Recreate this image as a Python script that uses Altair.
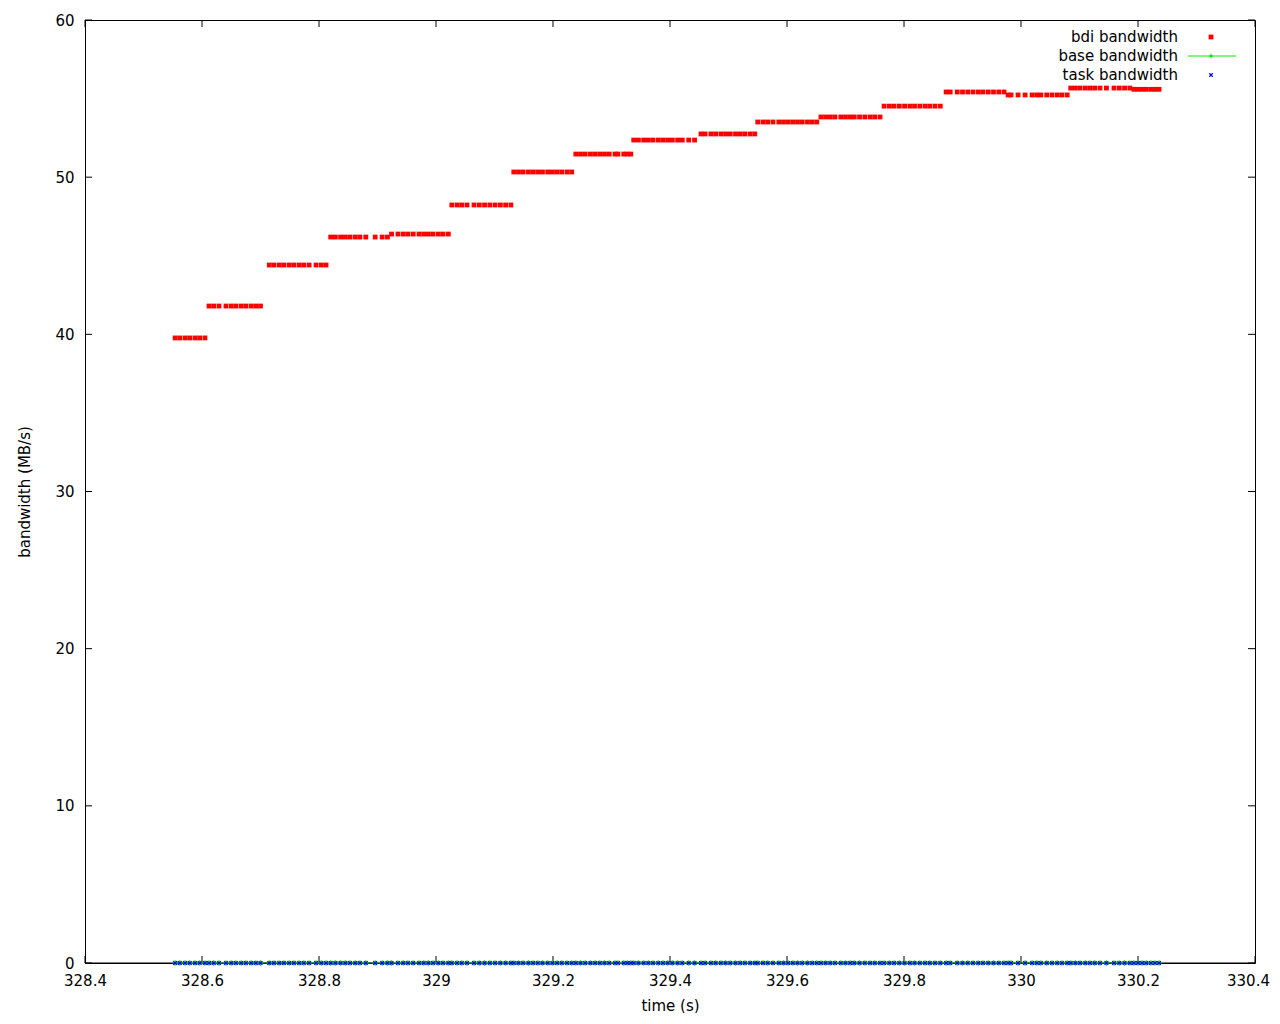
import altair as alt
import pandas as pd

# ---------------- data ----------------
bdi_levels = [39.77, 41.80, 44.41, 46.19, 46.38, 48.23, 50.33, 51.47, 52.36,
              52.75, 53.51, 53.83, 54.52, 55.42, 55.23, 55.67, 55.59]

bdi_times = [
    [328.554, 328.562, 328.571, 328.579, 328.588, 328.596, 328.605],
    [328.612, 328.620, 328.629, 328.641, 328.650, 328.658, 328.667, 328.675, 328.684, 328.692, 328.700],
    [328.715, 328.723, 328.732, 328.740, 328.749, 328.757, 328.766, 328.774, 328.783, 328.795, 328.804, 328.812],
    [328.820, 328.828, 328.837, 328.845, 328.853, 328.862, 328.870, 328.880, 328.896, 328.908, 328.917],
    [328.924, 328.935, 328.944, 328.952, 328.961, 328.971, 328.979, 328.987, 328.995, 329.004, 329.012, 329.021],
    [329.027, 329.036, 329.044, 329.053, 329.065, 329.074, 329.083, 329.092, 329.101, 329.110, 329.119, 329.128],
    [329.133, 329.141, 329.149, 329.158, 329.166, 329.174, 329.182, 329.191, 329.199, 329.207, 329.215, 329.224, 329.232],
    [329.239, 329.247, 329.255, 329.264, 329.272, 329.280, 329.288, 329.296, 329.306, 329.311, 329.321, 329.327, 329.333],
    [329.338, 329.346, 329.355, 329.363, 329.371, 329.380, 329.388, 329.396, 329.404, 329.413, 329.421, 329.432, 329.442],
    [329.453, 329.460, 329.470, 329.478, 329.487, 329.495, 329.503, 329.512, 329.520, 329.528, 329.537, 329.545],
    [329.550, 329.559, 329.567, 329.576, 329.586, 329.594, 329.602, 329.610, 329.618, 329.626, 329.635, 329.643, 329.651],
    [329.658, 329.666, 329.674, 329.682, 329.692, 329.700, 329.708, 329.715, 329.724, 329.733, 329.742, 329.750, 329.759],
    [329.766, 329.775, 329.783, 329.792, 329.801, 329.810, 329.818, 329.827, 329.836, 329.844, 329.853, 329.862],
    [329.872, 329.879, 329.891, 329.900, 329.909, 329.918, 329.927, 329.935, 329.944, 329.953, 329.962, 329.971],
    [329.978, 329.983, 329.995, 330.007, 330.019, 330.027, 330.034, 330.044, 330.053, 330.062, 330.070, 330.079],
    [330.085, 330.093, 330.101, 330.110, 330.118, 330.126, 330.135, 330.146, 330.159, 330.168, 330.177, 330.186],
    [330.193, 330.200, 330.207, 330.214, 330.222, 330.229, 330.236],
]

base_bandwidth_value = 0.0   # base bandwidth reads 0 at every sample
task_bandwidth_value = 0.0   # task bandwidth reads 0 at every sample

x_ticks = [328.4, 328.6, 328.8, 329.0, 329.2, 329.4, 329.6, 329.8, 330.0, 330.2, 330.4]
y_ticks = [0, 10, 20, 30, 40, 50, 60]

# ---------------- tables ----------------
rows = []
for lvl, ts in zip(bdi_levels, bdi_times):
    for t in ts:
        rows.append({"t": t, "bdi": lvl, "base": base_bandwidth_value, "task": task_bandwidth_value})
df = pd.DataFrame(rows)
xt = pd.DataFrame({"v": x_ticks})
yt = pd.DataFrame({"v": y_ticks})
one = pd.DataFrame({"a": [0]})

W, H = 1170, 943
FONT = "DejaVu Sans"
FS = 15

x_scale = alt.Scale(domain=[328.4, 330.4], nice=False, zero=False)
y_scale = alt.Scale(domain=[0, 60], nice=False, zero=True)

x_axis = alt.Axis(values=x_ticks, format="~f", ticks=False, tickSize=0, domain=False,
                  grid=False, labelPadding=10, labelFlush=False, labelOverlap=False,
                  labelOffset={"condition": {"test": "datum.value > 330.3", "value": -7}, "value": 0},
                  title="time (s)", titlePadding=10)
y_axis = alt.Axis(values=y_ticks, ticks=False, tickSize=0, domain=False, grid=False,
                  labelPadding=11, labelFlush=False, labelOverlap=False,
                  title="bandwidth (MB/s)", titlePadding=22)

X = alt.X("t:Q", scale=x_scale, axis=x_axis)

# inward ticks on all four sides
tick_bottom = alt.Chart(xt).mark_rule(color="black", strokeWidth=1).encode(
    x=alt.X("v:Q", scale=x_scale, axis=x_axis), y=alt.value(H), y2=alt.value(H - 7))
tick_top = alt.Chart(xt).mark_rule(color="black", strokeWidth=1).encode(
    x=alt.X("v:Q", scale=x_scale, axis=x_axis), y=alt.value(0), y2=alt.value(7))
tick_left = alt.Chart(yt).mark_rule(color="black", strokeWidth=1).encode(
    y=alt.Y("v:Q", scale=y_scale, axis=y_axis), x=alt.value(0), x2=alt.value(7))
tick_right = alt.Chart(yt).mark_rule(color="black", strokeWidth=1).encode(
    y=alt.Y("v:Q", scale=y_scale, axis=y_axis), x=alt.value(W), x2=alt.value(W - 7))

bdi = alt.Chart(df).mark_square(size=23, color="#ff0000", opacity=1, filled=True).encode(
    x=X, y=alt.Y("bdi:Q", scale=y_scale, axis=y_axis))

base_line = alt.Chart(df).mark_line(color="#00ee00", strokeWidth=1).encode(
    x=X, y=alt.Y("base:Q", scale=y_scale, axis=y_axis))

border_bottom = alt.Chart(one).mark_rule(color="black", strokeWidth=1).encode(
    x=alt.value(0), x2=alt.value(W), y=alt.value(H))

PLUS = "M-1,0L1,0M0,-1L0,1"
CROSS = "M-1,-1L1,1M-1,1L1,-1"

base_pts = alt.Chart(df).mark_point(shape=PLUS, size=30, filled=False, strokeWidth=1.2,
                                    color="#00dd00", opacity=1).encode(
    x=X, y=alt.Y("base:Q", scale=y_scale, axis=y_axis))

task_pts = alt.Chart(df).mark_point(shape=CROSS, size=14, filled=False, strokeWidth=1.4,
                                    color="#0000ff", opacity=1).encode(
    x=X, y=alt.Y("task:Q", scale=y_scale, axis=y_axis))

# legend (gnuplot style: label left, sample right)
LX, SX = 1093, 1126
leg_items = []
for label, yy in [("bdi bandwidth", 17), ("base bandwidth", 36), ("task bandwidth", 55)]:
    leg_items.append(alt.Chart(one).mark_text(align="right", baseline="middle", font=FONT,
                                              fontSize=FS, color="black").encode(
        x=alt.value(LX), y=alt.value(yy), text=alt.value(label)))
leg_items.append(alt.Chart(one).mark_square(size=23, color="#ff0000", opacity=1).encode(
    x=alt.value(SX), y=alt.value(17)))
leg_items.append(alt.Chart(one).mark_rule(color="#00ee00", strokeWidth=1).encode(
    x=alt.value(1103), x2=alt.value(1151), y=alt.value(36)))
leg_items.append(alt.Chart(one).mark_point(shape=PLUS, size=20, filled=False, strokeWidth=1,
                                           color="#00dd00", opacity=1).encode(
    x=alt.value(SX), y=alt.value(36)))
leg_items.append(alt.Chart(one).mark_point(shape=CROSS, size=12, filled=False, strokeWidth=1.2,
                                           color="#0000ff", opacity=1).encode(
    x=alt.value(SX), y=alt.value(55)))

chart = alt.layer(
    tick_bottom, tick_top, tick_left, tick_right,
    bdi, base_line, border_bottom, base_pts, task_pts, *leg_items
).properties(
    width=W, height=H,
    autosize=alt.AutoSizeParams(type="none"),
    padding={"left": 77, "top": 12, "right": 17, "bottom": 50},
    background="white",
).configure_view(
    stroke="black", strokeWidth=1
).configure_axis(
    labelFont=FONT, labelFontSize=FS, labelColor="black",
    titleFont=FONT, titleFontSize=FS, titleColor="black", titleFontWeight="normal",
)

chart.save("out.html", embed_options={"renderer": "svg", "actions": False})
